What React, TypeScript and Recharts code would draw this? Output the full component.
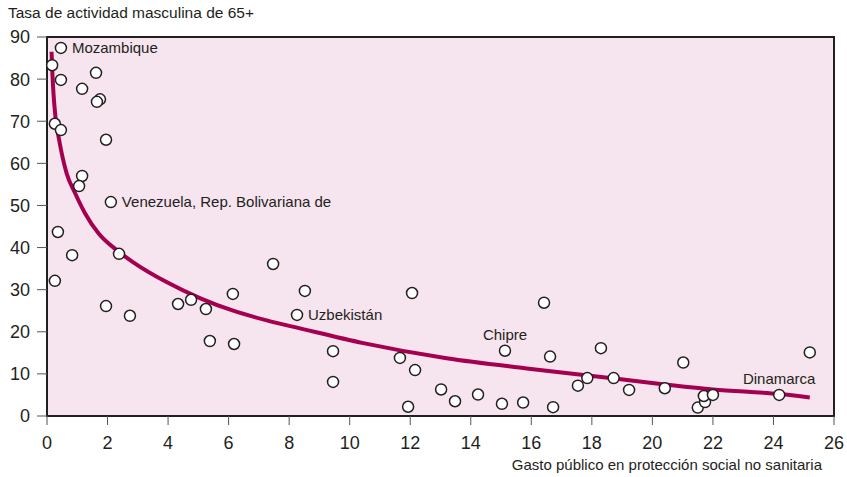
import React from 'react';
import { ScatterChart, Scatter, XAxis, YAxis, ReferenceArea } from 'recharts';

// país -> [gasto público en protección social no sanitaria, tasa de actividad masculina 65+]
const xValues = [
  0.46, 0.17, 0.46, 1.62, 1.16, 1.75, 1.65, 0.26, 0.46, 1.95, 1.16, 1.06, 2.11, 0.36, 0.83, 2.38,
  0.26, 1.95, 2.74, 4.33, 4.76, 5.25, 5.38, 6.14, 6.18, 7.47, 8.52, 8.26, 9.45, 9.45, 12.06, 11.66,
  12.16, 11.93, 13.02, 13.48, 14.24, 15.03, 15.13, 15.73, 16.42, 16.62, 16.72, 17.54, 17.85, 18.3,
  18.72, 19.23, 20.41, 21.02, 21.5, 21.74, 21.7, 22.0, 24.19, 25.2,
];
const yValues = [
  87.4, 83.3, 79.8, 81.5, 77.7, 75.2, 74.6, 69.4, 67.9, 65.6, 57.0, 54.6, 50.8, 43.7, 38.2, 38.5,
  32.1, 26.1, 23.8, 26.6, 27.6, 25.4, 17.8, 29.0, 17.1, 36.1, 29.7, 24.0, 15.4, 8.1, 29.2, 13.8,
  10.9, 2.2, 6.3, 3.5, 5.1, 2.9, 15.5, 3.2, 26.9, 14.1, 2.1, 7.2, 9.0, 16.1,
  9.0, 6.2, 6.6, 12.7, 2.0, 3.3, 4.75, 5.0, 5.0, 15.1,
];
// etiquetas: índice del punto -> nombre
const labelIndex = [0, 12, 27, 38, 54];
const labelNames = ['Mozambique', 'Venezuela, Rep. Bolivariana de', 'Uzbekistán', 'Chipre', 'Dinamarca'];
const labelSide = ['right', 'right', 'right', 'top', 'top'];

// curva de ajuste
const fitX = [0.15, 0.18, 0.22, 0.28, 0.4, 0.65, 0.93, 1.26, 1.7, 2.3, 2.85, 3.95, 5.05, 6.15, 7.26, 8.36, 10.45, 13.2, 15.85, 17.8, 20.4, 22, 24.2, 25.2];
const fitY = [86.5, 81, 76, 71, 65.6, 57.6, 52.9, 48.1, 43.4, 39.4, 36.5, 31.8, 28.0, 25.0, 22.7, 20.8, 17.3, 13.7, 11.3, 9.7, 7.5, 6.3, 5.2, 4.4];

const xTicks = [0, 2, 4, 6, 8, 10, 12, 14, 16, 18, 20, 22, 24, 26];
const yTicks = [0, 10, 20, 30, 40, 50, 60, 70, 80, 90];

const points = xValues.map((x, i) => {
  const k = labelIndex.indexOf(i);
  return { x, y: yValues[i], name: k >= 0 ? labelNames[k] : '', side: k >= 0 ? labelSide[k] : '' };
});
const fit = fitX.map((x, i) => ({ x, y: fitY[i] }));

const INK = '#231f20';
const FONT = '"Liberation Sans", Arial, sans-serif';

const Dot = (props: any) => {
  const { cx, cy, payload } = props;
  return (
    <g>
      <circle cx={cx} cy={cy} r={5.5} fill="#fff" stroke={INK} strokeWidth={1.5} />
      {payload.name && payload.side === 'right' && (
        <text x={cx + 11} y={cy} dy="0.36em" fontSize={15} fill={INK} fontFamily={FONT}>
          {payload.name}
        </text>
      )}
      {payload.name && payload.side === 'top' && (
        <text x={cx} y={cy - 16} dy="0.36em" textAnchor="middle" fontSize={15} fill={INK} fontFamily={FONT}>
          {payload.name}
        </text>
      )}
    </g>
  );
};

export default function App() {
  return (
    <div style={{ position: 'absolute', left: 0, top: 0, width: 847, height: 477, background: '#fff', fontFamily: FONT }}>
      <div style={{ position: 'absolute', left: 8, top: 4, fontSize: 15.5, color: INK }}>
        Tasa de actividad masculina de 65+
      </div>
      <div style={{ position: 'absolute', right: 25, top: 456, fontSize: 15, color: INK }}>
        Gasto público en protección social no sanitaria
      </div>
      <ScatterChart width={847} height={477} margin={{ top: 37, right: 13, bottom: 21, left: 7 }}>
        <XAxis
          type="number"
          dataKey="x"
          domain={[0, 26]}
          ticks={xTicks}
          interval={0}
          tickSize={9}
          tickMargin={11}
          height={40}
          axisLine={{ stroke: INK, strokeWidth: 2 }}
          tickLine={{ stroke: '#555' }}
          tick={{ fill: INK, fontSize: 18, fontFamily: FONT }}
        />
        <YAxis
          type="number"
          dataKey="y"
          domain={[0, 90]}
          ticks={yTicks}
          interval={0}
          tickSize={10}
          tickMargin={7}
          width={40}
          axisLine={{ stroke: INK, strokeWidth: 2 }}
          tickLine={{ stroke: '#555' }}
          tick={{ fill: INK, fontSize: 18, fontFamily: FONT }}
        />
        <ReferenceArea x1={0} x2={26} y1={0} y2={90} fill="#f6e4ee" fillOpacity={1} stroke={INK} strokeWidth={2} />
        <Scatter
          data={fit}
          line={{ stroke: '#a5004f', strokeWidth: 4 }}
          lineJointType="monotoneX"
          shape={() => <g />}
          isAnimationActive={false}
        />
        <Scatter data={points} shape={Dot} isAnimationActive={false} />
      </ScatterChart>
    </div>
  );
}
